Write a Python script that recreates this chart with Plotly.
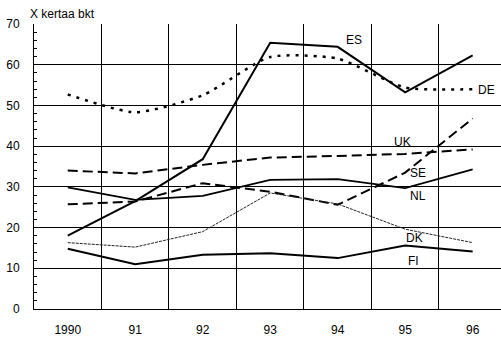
import plotly.graph_objects as go

years = ["1990", "91", "92", "93", "94", "95", "96"]
ES = [18.0, 26.5, 36.8, 65.4, 64.4, 53.2, 62.3]
DE = [52.7, 48.3, 52.5, 61.9, 61.5, 54.4, 54.0]
UK = [34.0, 33.3, 35.4, 37.2, 37.6, 38.1, 39.2]
SE = [25.7, 26.4, 30.9, 28.8, 25.6, 33.5, 46.8]
NL = [29.9, 26.8, 27.8, 31.7, 31.9, 29.7, 34.3]
DK = [16.3, 15.2, 19.0, 28.5, 25.8, 19.6, 16.3]
FI = [14.8, 11.0, 13.3, 13.7, 12.5, 15.6, 14.1]
y_ticks = [0, 10, 20, 30, 40, 50, 60, 70]

xs = list(range(len(years)))
FONT = "Liberation Sans, Arial, sans-serif"

fig = go.Figure()
series = [
    ("ES", ES, dict(color="black", width=2), "linear"),
    ("DE", DE, dict(color="black", width=2.5, dash="3px,6px"), "spline"),
    ("UK", UK, dict(color="black", width=2, dash="10px,5px"), "linear"),
    ("SE", SE, dict(color="black", width=2, dash="10px,5px"), "linear"),
    ("NL", NL, dict(color="black", width=1.8), "linear"),
    ("DK", DK, dict(color="#222222", width=1, dash="3px,1px"), "linear"),
    ("FI", FI, dict(color="black", width=2), "linear"),
]
for name, vals, line, shape in series:
    ln = dict(line)
    ln["shape"] = shape
    if shape == "spline":
        ln["smoothing"] = 0.6
    fig.add_trace(go.Scatter(x=xs, y=vals, mode="lines", name=name, line=ln,
                             showlegend=False, hoverinfo="skip",
                             cliponaxis=False))

labels = [("ES", 4.24, 66.0), ("DE", 6.20, 53.75), ("UK", 4.96, 40.9),
          ("SE", 5.19, 33.3), ("NL", 5.19, 27.8), ("DK", 5.14, 17.4),
          ("FI", 5.13, 11.7)]
for t, x, y in labels:
    fig.add_annotation(x=x, y=y, text=t, showarrow=False,
                       font=dict(family=FONT, size=12, color="black"))

fig.update_layout(
    width=501, height=338,
    margin=dict(l=34, r=0, t=24, b=29, autoexpand=False),
    paper_bgcolor="white", plot_bgcolor="white",
    font=dict(family=FONT, size=12, color="black"),
    title=dict(text="X kertaa bkt", x=30 / 501, xanchor="left",
               y=1 - 14 / 338, yanchor="middle", xref="container",
               font=dict(family=FONT, size=12, color="black"),
               automargin=False),
)
fig.update_xaxes(
    range=[-0.5, 6.42], tickmode="array", tickvals=xs, ticktext=years,
    showgrid=False, zeroline=False, showline=True, linecolor="black",
    linewidth=1, ticks="", ticklabelstandoff=10, automargin=False,
    minor=dict(tickmode="linear", tick0=0.5, dtick=1, showgrid=True,
               gridcolor="black", gridwidth=1, ticks=""),
    tickfont=dict(family=FONT, size=12),
)
fig.update_yaxes(
    range=[0, 70], tickmode="array", tickvals=y_ticks,
    showgrid=True, gridcolor="black", gridwidth=1, zeroline=False,
    showline=True, linecolor="black", linewidth=1, automargin=False,
    ticks="inside", ticklen=4, tickcolor="black", ticklabelstandoff=11,
    minor=dict(tickmode="linear", tick0=0, dtick=2, ticks="inside",
               ticklen=3, tickcolor="black", showgrid=False),
    tickfont=dict(family=FONT, size=12),
)

fig.write_html("out.html",
               config={"displayModeBar": False, "staticPlot": True},
               post_script="document.body.style.margin='0';"
                           "document.body.style.overflow='hidden';")
